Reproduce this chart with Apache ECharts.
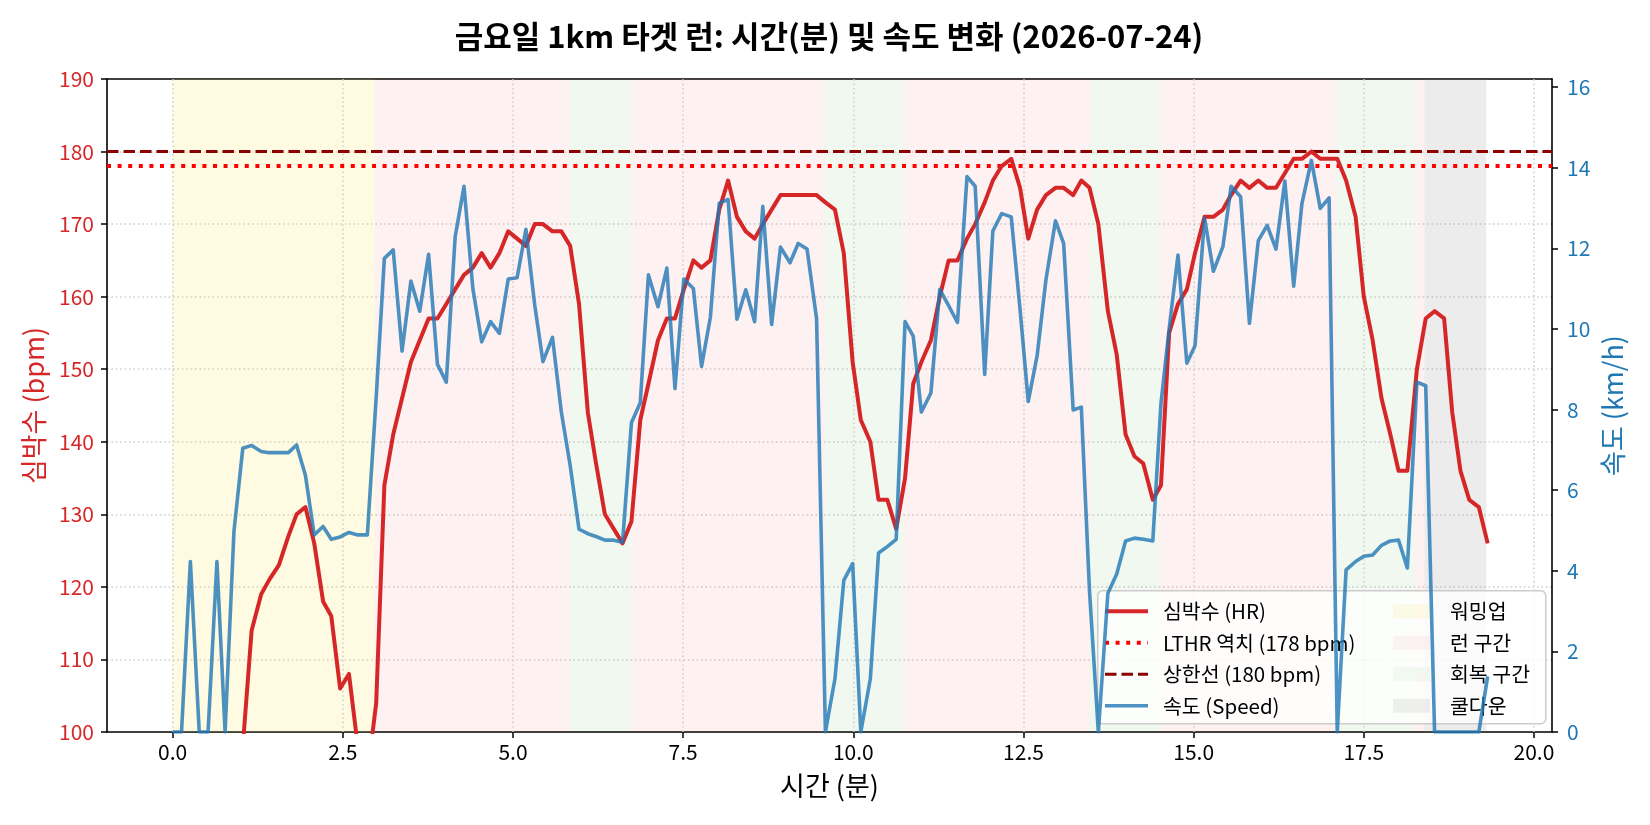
<!DOCTYPE html>
<html>
<head>
<meta charset="utf-8">
<title>금요일 1km 타겟 런</title>
<script src="https://cdn.jsdelivr.net/npm/echarts@6/dist/echarts.min.js"></script>
<style>
  html, body { margin: 0; padding: 0; background: #fff; }
  #chart { width: 1650px; height: 825px; }
</style>
</head>
<body>
<div id="chart"></div>
<script>
// elapsed time (min)
var times = [
  0, 0.13, 0.26, 0.39, 0.52, 0.65, 0.77, 0.90, 1.03, 1.16, 1.30, 1.42, 1.56, 1.70, 1.82, 1.95,
  2.08, 2.21, 2.33, 2.46, 2.59, 2.72, 2.86, 2.99, 3.11, 3.24, 3.37, 3.50, 3.63, 3.76, 3.89, 4.02,
  4.15, 4.28, 4.41, 4.54, 4.67, 4.80, 4.93, 5.06, 5.19, 5.32, 5.44, 5.58, 5.71, 5.84, 5.97, 6.10,
  6.22, 6.35, 6.48, 6.61, 6.74, 6.87, 6.99, 7.13, 7.26, 7.38, 7.51, 7.65, 7.77, 7.90, 8.03, 8.16,
  8.29, 8.42, 8.55, 8.67, 8.80, 8.93, 9.07, 9.19, 9.32, 9.46, 9.59, 9.73, 9.86, 9.99, 10.11, 10.25,
  10.37, 10.50, 10.63, 10.76, 10.88, 11.00, 11.14, 11.27, 11.40, 11.53, 11.67, 11.79, 11.93, 12.05, 12.18, 12.32,
  12.45, 12.57, 12.70, 12.83, 12.97, 13.09, 13.23, 13.35, 13.47, 13.60, 13.74, 13.87, 14.00, 14.13, 14.26, 14.40,
  14.52, 14.64, 14.77, 14.90, 15.02, 15.16, 15.29, 15.43, 15.55, 15.69, 15.82, 15.95, 16.08, 16.21, 16.34, 16.47,
  16.59, 16.73, 16.86, 16.99, 17.11, 17.24, 17.38, 17.50, 17.63, 17.76, 17.89, 18.01, 18.14, 18.28, 18.41, 18.54,
  18.68, 18.80, 18.92, 19.05, 19.19, 19.32
];

// heart rate (bpm)
var heartRate = [
  86, 87, 88, 90, 91, 93, 95, 96, 98, 114, 119, 121, 123, 127, 130, 131,
  126, 118, 116, 106, 108, 98, 94, 104, 134, 141, 146, 151, 154, 157, 157, 159,
  161, 163, 164, 166, 164, 166, 169, 168, 167, 170, 170, 169, 169, 167, 159, 144,
  137, 130, 128, 126, 129, 143, 148, 154, 157, 157, 161, 165, 164, 165, 172, 176,
  171, 169, 168, 170, 172, 174, 174, 174, 174, 174, 173, 172, 166, 151, 143, 140,
  132, 132, 128, 135, 148, 151, 154, 160, 165, 165, 168, 170, 173, 176, 178, 179,
  175, 168, 172, 174, 175, 175, 174, 176, 175, 170, 158, 152, 141, 138, 137, 132,
  134, 155, 159, 161, 166, 171, 171, 172, 174, 176, 175, 176, 175, 175, 177, 179,
  179, 180, 179, 179, 179, 176, 171, 160, 154, 146, 141, 136, 136, 150, 157, 158,
  157, 144, 136, 132, 131, 126
];

// speed (km/h)
var speed = [
  0, 0, 4.23, 0, 0, 4.23, 0, 4.97, 7.04, 7.11, 6.96, 6.93, 6.93, 6.93, 7.12, 6.37,
  4.89, 5.10, 4.78, 4.84, 4.95, 4.89, 4.89, 8.3, 11.75, 11.96, 9.45, 11.19, 10.44, 11.85, 9.12, 8.68,
  12.28, 13.54, 11.0, 9.68, 10.18, 9.89, 11.24, 11.27, 12.47, 10.58, 9.19, 9.79, 7.94, 6.61, 5.03, 4.92,
  4.85, 4.76, 4.76, 4.71, 7.67, 8.17, 11.34, 10.55, 11.51, 8.52, 11.24, 11.0, 9.07, 10.29, 13.12, 13.21,
  10.24, 10.97, 10.18, 13.04, 10.11, 12.03, 11.64, 12.12, 11.98, 10.26, 0, 1.32, 3.76, 4.18, 0, 1.32,
  4.44, 4.60, 4.78, 10.18, 9.82, 7.94, 8.41, 10.98, 10.58, 10.16, 13.78, 13.54, 8.87, 12.43, 12.86, 12.78,
  10.48, 8.20, 9.33, 11.22, 12.68, 12.12, 7.99, 8.06, 3.5, 0, 3.44, 3.92, 4.74, 4.81, 4.78, 4.74,
  8.15, 10.0, 11.83, 9.15, 9.58, 12.75, 11.43, 12.04, 13.54, 13.28, 10.14, 12.19, 12.57, 11.98, 13.67, 11.06,
  13.10, 14.18, 12.99, 13.25, 0, 4.02, 4.23, 4.36, 4.39, 4.63, 4.74, 4.76, 4.07, 8.68, 8.59, 0,
  0, 0, 0, 0, 0, 1.38
];

var lthr = 178;
var hrCap = 180;

// 구간 (start, end) in minutes
var warmup = [[0, 2.97]];
var runs = [[2.97, 5.83], [6.73, 9.58], [10.74, 13.47], [14.50, 17.09], [18.25, 18.39]];
var recovery = [[5.83, 6.73], [9.58, 10.74], [13.47, 14.50], [17.09, 18.25]];
var cooldown = [[18.39, 19.30]];

var xTicks = [0, 2.5, 5, 7.5, 10, 12.5, 15, 17.5, 20];
var speedTicks = [0, 2, 4, 6, 8, 10, 12, 14, 16];

(function () {
  var font = '"Noto Sans CJK KR", "Noto Sans", sans-serif';
  var hrColor = '#d62728';
  var spColor = '#1f77b4';
  var gridStyle = { color: '#d0d0d0', width: 1.6, type: [1.6, 2.8] };
  var spine = { color: '#000', width: 1.6 };

  var chart = echarts.init(document.getElementById('chart'), null, { renderer: 'canvas' });

  function pairs(ys) {
    return times.map(function (t, i) { return [t, ys[i]]; });
  }

  function zone(name, color, ranges) {
    return {
      name: name,
      type: 'scatter',
      data: [],
      z: 1,
      itemStyle: { color: color },
      markArea: {
        silent: true,
        z: 1,
        itemStyle: { color: color },
        data: ranges.map(function (r) { return [{ xAxis: r[0] }, { xAxis: r[1] }]; })
      }
    };
  }

  function hline(name, value, color, width, dash) {
    return {
      name: name,
      type: 'line',
      data: [],
      symbol: 'none',
      z: 3,
      itemStyle: { color: color },
      lineStyle: { color: color, width: width, type: dash },
      markLine: {
        silent: true,
        symbol: ['none', 'none'],
        z: 3,
        label: { show: false },
        lineStyle: { color: color, width: width, type: dash },
        data: [{ yAxis: value }]
      }
    };
  }

  var option = {
    animation: false,
    backgroundColor: '#fff',
    textStyle: { fontFamily: font },
    title: {
      text: '금요일 1km 타겟 런: 시간(분) 및 속도 변화 (2026-07-24)',
      left: 829,
      top: 21,
      textAlign: 'center',
      padding: 0,
      textStyle: { fontSize: 31, fontWeight: 'bold', color: '#000', fontFamily: font }
    },
    grid: {
      left: 107, right: 98, top: 79, bottom: 93,
      outerBoundsMode: 'none'
    },
    graphic: {
      elements: [{
        type: 'rect',
        left: 1097, top: 590, z: 4,
        shape: { width: 448, height: 133, r: 5 },
        style: { fill: 'rgba(255,255,255,0.8)', stroke: '#cccccc', lineWidth: 1.5 }
      }]
    },
    legend: [{
      data: ['심박수 (HR)', 'LTHR 역치 (178 bpm)', '상한선 (180 bpm)', '속도 (Speed)'],
      orient: 'vertical',
      left: 1103, top: 601,
      padding: 0,
      itemGap: 11,
      itemWidth: 43,
      itemHeight: 14,
      z: 5,
      selectedMode: false,
      itemStyle: { opacity: 0 },
      lineStyle: { width: 'inherit' },
      textStyle: { fontSize: 20.5, color: '#000', fontFamily: font, padding: [0, 0, 0, 10] }
    }, {
      data: ['워밍업', '런 구간', '회복 구간', '쿨다운'],
      orient: 'vertical',
      left: 1393, top: 601,
      padding: 0,
      itemGap: 11,
      itemWidth: 37,
      itemHeight: 14,
      icon: 'rect',
      z: 5,
      selectedMode: false,
      textStyle: { fontSize: 20.5, color: '#000', fontFamily: font, padding: [0, 0, 0, 15] }
    }],
    xAxis: [{
      type: 'value',
      min: -0.965,
      max: 20.265,
      name: '시간 (분)',
      nameLocation: 'middle',
      nameGap: 40,
      nameMoveOverlap: false,
      nameTextStyle: { fontSize: 27, color: '#000', fontFamily: font },
      axisLine: { show: true, onZero: false, lineStyle: spine },
      axisTick: { show: true, length: 6, customValues: xTicks, lineStyle: { color: '#000', width: 1.5 } },
      axisLabel: {
        customValues: xTicks,
        margin: 10,
        fontSize: 21,
        color: '#000',
        formatter: function (v) { return v.toFixed(1); }
      },
      splitLine: { show: false }
    }, {
      // top spine only
      type: 'value',
      position: 'top',
      min: -0.965,
      max: 20.265,
      axisLine: { show: true, onZero: false, lineStyle: spine },
      axisTick: { show: false },
      axisLabel: { show: false },
      splitLine: { show: false }
    }],
    yAxis: [{
      type: 'value',
      min: 100,
      max: 190,
      interval: 10,
      position: 'left',
      name: '심박수 (bpm)',
      nameLocation: 'middle',
      nameRotate: 90,
      nameGap: 60,
      nameMoveOverlap: false,
      nameTextStyle: { fontSize: 27, color: hrColor, fontFamily: font },
      axisLine: { show: true, onZero: false, lineStyle: spine },
      axisTick: { show: true, length: 6, lineStyle: { color: '#000', width: 1.5 } },
      axisLabel: { margin: 13, fontSize: 21, color: hrColor },
      splitLine: { show: true, showMinLine: false, showMaxLine: false, lineStyle: gridStyle }
    }, {
      type: 'value',
      min: 0,
      max: 16.2,
      position: 'right',
      name: '속도 (km/h)',
      nameLocation: 'middle',
      nameRotate: 90,
      nameGap: 47,
      nameMoveOverlap: false,
      nameTextStyle: { fontSize: 27, color: spColor, fontFamily: font },
      axisLine: { show: true, onZero: false, lineStyle: spine },
      axisTick: { show: true, length: 6, customValues: speedTicks, lineStyle: { color: '#000', width: 1.5 } },
      axisLabel: { customValues: speedTicks, margin: 15, fontSize: 21, color: spColor },
      splitLine: { show: false }
    }],
    series: [
      zone('워밍업', 'rgba(250,225,60,0.15)', warmup),
      zone('런 구간', 'rgba(240,60,60,0.07)', runs),
      zone('회복 구간', 'rgba(60,160,40,0.07)', recovery),
      zone('쿨다운', 'rgba(128,128,128,0.15)', cooldown),
      {
        name: 'xgrid',
        type: 'line',
        data: [],
        symbol: 'none',
        markLine: {
          silent: true,
          symbol: ['none', 'none'],
          z: 2,
          label: { show: false },
          lineStyle: gridStyle,
          data: xTicks.map(function (v) { return { xAxis: v }; })
        }
      },
      {
        name: '심박수 (HR)',
        type: 'line',
        data: pairs(heartRate),
        yAxisIndex: 0,
        symbol: 'none',
        z: 3,
        itemStyle: { color: hrColor },
        lineStyle: { color: hrColor, width: 4, join: 'round' }
      },
      hline('LTHR 역치 (178 bpm)', lthr, '#ff0000', 4, [4, 6.6]),
      hline('상한선 (180 bpm)', hrCap, '#8b0000', 3, [11.5, 5]),
      {
        name: '속도 (Speed)',
        type: 'line',
        data: pairs(speed),
        yAxisIndex: 1,
        symbol: 'none',
        z: 6,
        itemStyle: { color: spColor },
        lineStyle: { color: spColor, width: 3.6, opacity: 0.8, join: 'round' }
      }
    ]
  };

  chart.setOption(option);
  window.addEventListener('resize', function () { chart.resize(); });
})();
</script>
</body>
</html>
